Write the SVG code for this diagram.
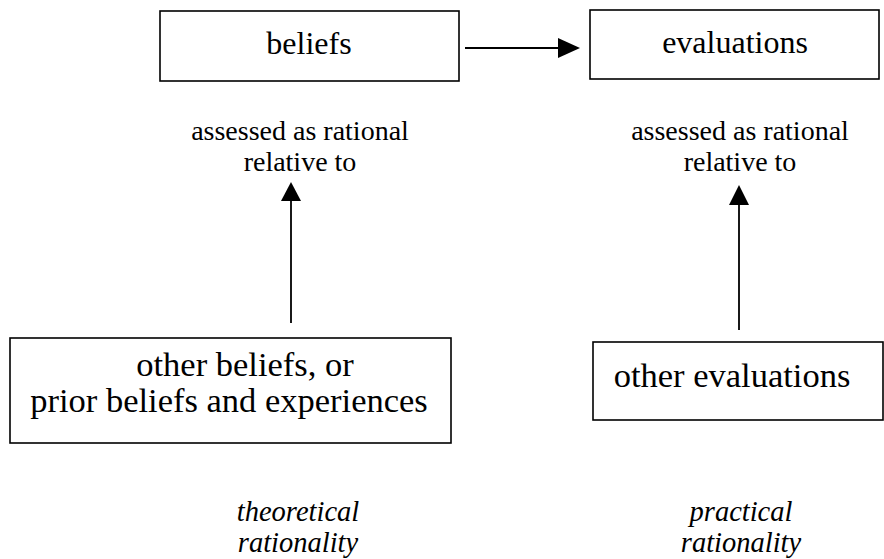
<svg xmlns="http://www.w3.org/2000/svg" width="884" height="559" viewBox="0 0 884 559">
<style>
.box{fill:#fff;stroke:#000;stroke-width:1.6}
.t{font-family:"Liberation Serif","Times New Roman",serif;font-size:32px;fill:#000;text-anchor:middle}
.s{font-size:28px}
.b{font-size:34.5px}
.i{font-family:"Liberation Serif","Times New Roman",serif;font-size:28.5px;font-style:italic;fill:#000;text-anchor:middle}
.ln{stroke:#000;stroke-width:1.8;fill:none}
.hd{fill:#000}
</style>
<rect width="884" height="559" fill="#fff"/>
<g id="beliefs">
<rect class="box" x="160" y="11" width="299" height="70"/>
<text class="t" x="309" y="54">beliefs</text>
</g>
<g id="evaluations">
<rect class="box" x="590" y="10" width="289" height="69"/>
<text class="t" x="735" y="53">evaluations</text>
</g>
<g id="label-left">
<text class="t s" x="300" y="140">assessed as rational</text>
<text class="t s" x="300" y="171">relative to</text>
</g>
<g id="label-right">
<text class="t s" x="740" y="140">assessed as rational</text>
<text class="t s" x="740" y="171">relative to</text>
</g>
<g id="other-beliefs">
<rect class="box" x="10" y="338" width="441" height="105"/>
<text class="t b" x="245" y="376">other beliefs, or</text>
<text class="t b" x="229" y="412">prior beliefs and experiences</text>
</g>
<g id="other-evaluations">
<rect class="box" x="593" y="342" width="290" height="78"/>
<text class="t b" x="732" y="387">other evaluations</text>
</g>
<g id="theoretical">
<text class="i" x="298" y="521">theoretical</text>
<text class="i" x="298" y="552">rationality</text>
</g>
<g id="practical">
<text class="i" x="741" y="521">practical</text>
<text class="i" x="741" y="552">rationality</text>
</g>
<g id="connectors">
<line class="ln" x1="465" y1="48" x2="560" y2="48"/>
<polygon class="hd" points="558,38 580,48 558,58"/>
<line class="ln" x1="291" y1="323" x2="291" y2="199"/>
<polygon class="hd" points="281,201 291,182 301,201"/>
<line class="ln" x1="739" y1="330" x2="739" y2="203"/>
<polygon class="hd" points="729,205 739,185 749,205"/>
</g>
</svg>
